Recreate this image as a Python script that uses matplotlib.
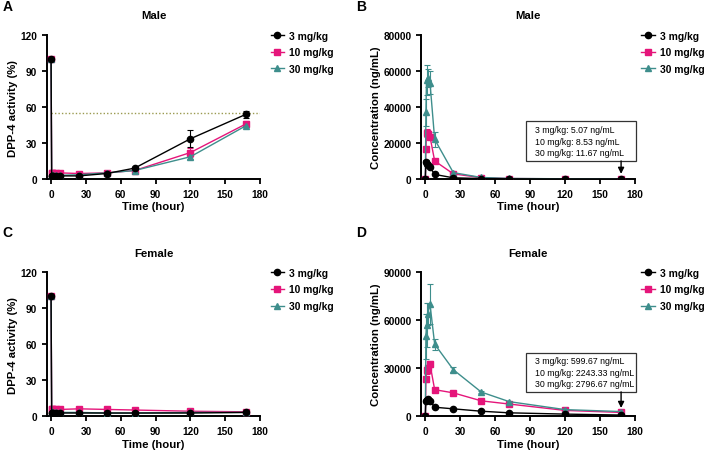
import matplotlib
matplotlib.use("Agg")
import matplotlib.pyplot as plt
from matplotlib.lines import Line2D
import numpy as np

plt.rcParams['font.family'] = ['Liberation Sans', 'DejaVu Sans']
plt.rcParams['font.weight'] = 'bold'

doses = ["3 mg/kg", "10 mg/kg", "30 mg/kg"]
colors = ["#000000", "#E5157A", "#3E8E8C"]
markers = ["o", "s", "^"]

# DPP-4 activity time points
t_dpp = [0, 0.5, 1, 2, 4, 8, 24, 48, 72, 120, 168]
male_dpp = [
    [100, 2.5, 2.5, 2.5, 2.5, 2.5, 2.5, 4.5, 9, 33.5, 54],
    [100, 5, 5, 5, 5, 5, 4.5, 5, 7, 22, 46],
    [100, 3, 3, 3, 3, 3, 3.5, 5, 7, 18.5, 44.5],
]
male_dpp_err = [
    [0, 0.5, 0.5, 0.5, 0.5, 0.5, 0.5, 0.5, 1, 7, 3],
    [0, 0.5, 0.5, 0.5, 0.5, 0.5, 0.5, 0.5, 0.5, 4, 2],
    [0, 0.5, 0.5, 0.5, 0.5, 0.5, 0.5, 0.5, 0.5, 2, 1],
]
female_dpp = [
    [100, 2.5, 2.5, 2.5, 2.5, 2.5, 2.5, 2.5, 2.5, 2.5, 3],
    [100, 6, 6, 6, 6, 5.5, 6, 5.5, 5, 4, 3.5],
    [100, 3, 3, 3, 3, 3, 3, 2.5, 2.5, 3, 3],
]
female_dpp_err = [
    [0, 0.3, 0.3, 0.3, 0.3, 0.3, 0.3, 0.3, 0.3, 0.3, 0.3],
    [0, 0.5, 0.5, 0.5, 0.5, 0.5, 0.5, 0.5, 0.5, 0.5, 0.5],
    [0, 0.3, 0.3, 0.3, 0.3, 0.3, 0.3, 0.3, 0.3, 0.3, 0.3],
]
threshold = 55

# PK time points
t_pk = [0, 0.5, 1, 2, 4, 8, 24, 48, 72, 120, 168]
male_pk = [
    [0, 9500, 8500, 7500, 6500, 2500, 600, 200, 60, 15, 5.07],
    [0, 16500, 25500, 25000, 23500, 10000, 2800, 700, 200, 50, 8.53],
    [0, 37000, 55000, 56000, 53500, 22000, 3500, 800, 250, 60, 11.67],
]
male_pk_err = [
    [0, 800, 700, 600, 500, 300, 100, 50, 10, 5, 1],
    [0, 1500, 2000, 1500, 1000, 1000, 300, 100, 30, 10, 2],
    [0, 7500, 8500, 5000, 6500, 4000, 500, 100, 30, 10, 2],
]
female_pk = [
    [0, 9500, 10000, 10500, 9500, 5500, 4500, 3000, 2000, 1200, 599.67],
    [0, 23000, 28500, 30000, 32500, 16500, 14500, 9500, 7500, 3500, 2243.33],
    [0, 50000, 57000, 64000, 70000, 45000, 29000, 15000, 9000, 4000, 2796.67],
]
female_pk_err = [
    [0, 600, 600, 700, 600, 300, 300, 200, 200, 100, 80],
    [0, 1500, 2000, 2000, 2000, 1000, 800, 600, 500, 300, 200],
    [0, 14000, 14000, 7000, 12500, 3500, 1500, 800, 500, 300, 200],
]

male_note = ["3 mg/kg: 5.07 ng/mL", "10 mg/kg: 8.53 ng/mL", "30 mg/kg: 11.67 ng/mL"]
female_note = ["3 mg/kg: 599.67 ng/mL", "10 mg/kg: 2243.33 ng/mL", "30 mg/kg: 2796.67 ng/mL"]

fig = plt.figure(figsize=(7.08, 4.52), dpi=100)

def style_axes(ax, ylim, yticks, ylabel, title, legx):
    ax.set_xlim(-3.5, 180)
    ax.set_ylim(*ylim)
    ax.set_xticks([0, 30, 60, 90, 120, 150, 180])
    ax.set_yticks(yticks)
    for s in ['top', 'right']:
        ax.spines[s].set_visible(False)
    for s in ['left', 'bottom']:
        ax.spines[s].set_linewidth(1.4)
    ax.tick_params(direction='out', width=1.3, length=3.5, labelsize=7.3)
    for lab in ax.get_xticklabels() + ax.get_yticklabels():
        lab.set_fontweight('bold')
    ax.set_xlabel("Time (hour)", fontsize=8.2, fontweight='bold', labelpad=2)
    ax.set_ylabel(ylabel, fontsize=8.2, fontweight='bold', labelpad=2)
    ax.set_title(title, fontsize=8.2, fontweight='bold', pad=12)
    handles = [Line2D([0], [0], color=colors[i], marker=markers[i], markersize=4.5, lw=1.0)
               for i in range(3)]
    leg = ax.legend(handles, doses, loc='upper left', bbox_to_anchor=(legx, 1.06), frameon=False,
                    borderaxespad=0, fontsize=7.4, handlelength=1.3, handletextpad=0.5,
                    labelspacing=0.65)
    for txt in leg.get_texts():
        txt.set_fontweight('bold')

def plot_series(ax, t, data, err, ms):
    for i in range(3):
        ax.errorbar(t, data[i], yerr=err[i], color=colors[i], marker=markers[i],
                    markersize=ms, linewidth=1.0, elinewidth=0.8, capsize=2.5, capthick=0.8,
                    zorder=5 if i == 0 else 3)

h = 0.318
axA = fig.add_axes([0.0664, 0.602, 0.301, h])
axB = fig.add_axes([0.595, 0.602, 0.302, h])
axC = fig.add_axes([0.0664, 0.0774, 0.301, h])
axD = fig.add_axes([0.595, 0.0774, 0.302, h])

plot_series(axA, t_dpp, male_dpp, male_dpp_err, 4.5)
axA.plot([0, 180], [threshold, threshold], linestyle=(0, (1, 1.5)), color='#9A9A50', linewidth=1.0, zorder=1)
style_axes(axA, (0, 120), [0, 30, 60, 90, 120], "DPP-4 activity (%)", "Male", 1.03)

plot_series(axB, t_pk, male_pk, male_pk_err, 4.5)
style_axes(axB, (0, 80000), [0, 20000, 40000, 60000, 80000], "Concentration (ng/mL)", "Male", 1.01)

plot_series(axC, t_dpp, female_dpp, female_dpp_err, 4.5)
style_axes(axC, (0, 120), [0, 30, 60, 90, 120], "DPP-4 activity (%)", "Female", 1.03)

plot_series(axD, t_pk, female_pk, female_pk_err, 4.5)
style_axes(axD, (0, 90000), [0, 30000, 60000, 90000], "Concentration (ng/mL)", "Female", 1.01)

def note(ax, lines, box_left, box_bottom, box_top, tip_frac):
    ax.text(box_left + 0.04, (box_bottom + box_top) / 2, "\n".join(lines), transform=ax.transAxes,
            fontsize=6.3, fontweight='normal', ha='left', va='center', linespacing=1.35, zorder=7)
    ax.add_patch(plt.Rectangle((box_left, box_bottom), 1.005 - box_left, box_top - box_bottom,
                               transform=ax.transAxes, fc='white', ec='#333333', lw=0.9,
                               clip_on=False, zorder=6))
    trans = ax.get_xaxis_transform()
    ax.annotate("", xy=(168, tip_frac), xytext=(168, box_bottom), xycoords=trans, textcoords=trans,
                arrowprops=dict(arrowstyle='-|>', color='black', lw=1.0, mutation_scale=9,
                                shrinkA=0, shrinkB=0), zorder=7)

note(axB, male_note, 0.49, 0.125, 0.40, 0.035)
note(axD, female_note, 0.49, 0.168, 0.44, 0.056)

for lbl, x, y in [("A", 0.004, 0.985), ("B", 0.503, 0.985), ("C", 0.004, 0.485), ("D", 0.503, 0.485)]:
    fig.text(x, y, lbl, fontsize=10, fontweight='bold', ha='left', va='center')

fig.savefig("out.png", dpi=100)
